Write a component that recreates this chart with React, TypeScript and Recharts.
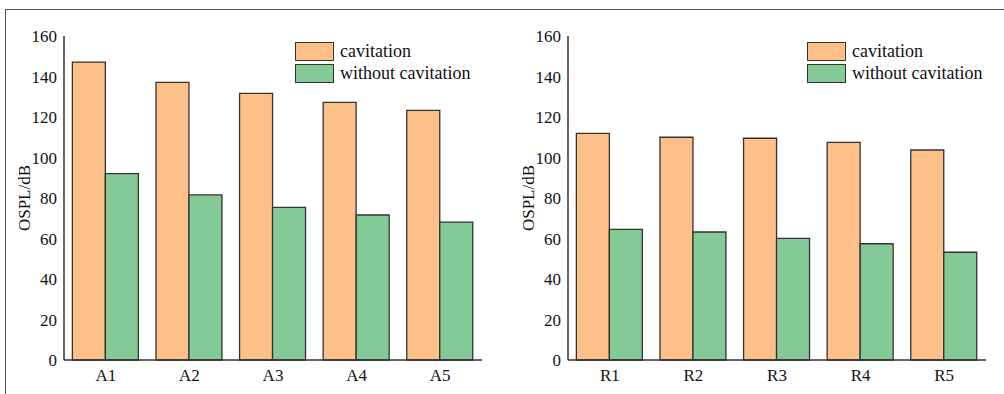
import React from "react";
import {
  Bar,
  BarChart,
  Legend,
  XAxis,
  YAxis,
} from "recharts";

// OSPL for the A-series and R-series cases, with and without cavitation
const aCases = ["A1", "A2", "A3", "A4", "A5"];
const aCavitation = [147.1, 137.1, 131.7, 127.2, 123.3];
const aWithout = [92.0, 81.5, 75.4, 71.6, 68.1];

const rCases = ["R1", "R2", "R3", "R4", "R5"];
const rCavitation = [111.9, 110.0, 109.5, 107.5, 103.7];
const rWithout = [64.5, 63.2, 60.1, 57.4, 53.2];

const majorTicks = [0, 20, 40, 60, 80, 100, 120, 140, 160];
const minorTicks = [10, 30, 50, 70, 90, 110, 130, 150];

const FONT = '"Liberation Serif", "Times New Roman", serif';
const ORANGE = "#FDC088";
const GREEN = "#84CA96";
const EDGE = "#333333";

type Row = { name: string; cavitation: number; without: number };

const toRows = (names: string[], cav: number[], wo: number[]): Row[] =>
  names.map((name, i) => ({ name, cavitation: cav[i], without: wo[i] }));

const renderLegend = (props: any) => {
  const items = props.payload || [];
  return (
    <div style={{ fontFamily: FONT, fontSize: 18, color: "#111" }}>
      {items.map((it: any) => (
        <div
          key={it.value}
          style={{ display: "flex", alignItems: "center", height: 21.6 }}
        >
          <div
            style={{
              width: 37,
              height: 17,
              background: it.color,
              border: `1.5px solid ${EDGE}`,
              marginRight: 6,
            }}
          />
          <span style={{ lineHeight: "19px" }}>{it.value}</span>
        </div>
      ))}
    </div>
  );
};

const yLabel = (props: any) => {
  const vb = props.viewBox;
  const cx = vb.x + 10;
  const cy = vb.y + vb.height / 2;
  return (
    <text
      x={cx}
      y={cy}
      transform={`rotate(-90, ${cx}, ${cy})`}
      textAnchor="middle"
      dominantBaseline="central"
      fontFamily={FONT}
      fontSize={17}
      fill="#111"
    >
      OSPL/dB
    </text>
  );
};

const Panel = ({
  rows,
  left,
  legendLeft,
}: {
  rows: Row[];
  left: number;
  legendLeft: number;
}) => (
  <div style={{ position: "absolute", left, top: 0 }}>
    <BarChart
      width={500}
      height={394}
      data={rows}
      margin={{ top: 36, right: 18, bottom: 4, left: 14 }}
      barCategoryGap="10%"
      barGap={0}
    >
      <XAxis
        dataKey="name"
        height={30}
        tickLine={false}
        tickSize={0}
        tickMargin={9}
        axisLine={{ stroke: EDGE, strokeWidth: 1.5 }}
        tick={{ fontFamily: FONT, fontSize: 17, fill: "#111" }}
      />
      {/* small inward ticks on the boundaries between groups */}
      <XAxis
        xAxisId="bounds"
        type="number"
        domain={[0, rows.length]}
        allowDataOverflow
        ticks={rows.slice(1).map((_, i) => i + 1)}
        mirror
        height={0}
        tick={false}
        tickSize={4}
        tickLine={{ stroke: EDGE, strokeWidth: 1.2 }}
        axisLine={false}
      />
      <XAxis
        xAxisId="top"
        orientation="top"
        dataKey="name"
        mirror
        height={0}
        tick={false}
        tickLine={false}
        axisLine={{ stroke: EDGE, strokeWidth: 1.5 }}
      />
      <YAxis
        width={50}
        domain={[0, 160]}
        ticks={majorTicks}
        tickLine={false}
        tickSize={0}
        tickMargin={7}
        axisLine={{ stroke: EDGE, strokeWidth: 1.5 }}
        tick={{ fontFamily: FONT, fontSize: 17, fill: "#111" }}
        label={yLabel}
      />
      <YAxis
        yAxisId="major"
        mirror
        width={0}
        domain={[0, 160]}
        ticks={majorTicks}
        tick={false}
        tickSize={5}
        tickLine={{ stroke: EDGE, strokeWidth: 1.2 }}
        axisLine={false}
      />
      <YAxis
        yAxisId="minor"
        mirror
        width={0}
        domain={[0, 160]}
        ticks={minorTicks}
        tick={false}
        tickSize={3}
        tickLine={{ stroke: EDGE, strokeWidth: 1.2 }}
        axisLine={false}
      />
      <YAxis
        yAxisId="right"
        orientation="right"
        mirror
        width={0}
        domain={[0, 160]}
        tick={false}
        tickLine={false}
        axisLine={{ stroke: EDGE, strokeWidth: 1.5 }}
      />
      <Legend
        layout="vertical"
        align="center"
        verticalAlign="middle"
        content={renderLegend}
        wrapperStyle={{ left: legendLeft, top: 41, width: "auto" }}
      />
      <Bar
        dataKey="cavitation"
        name="cavitation"
        fill={ORANGE}
        stroke={EDGE}
        strokeWidth={1.3}
        isAnimationActive={false}
      />
      <Bar
        dataKey="without"
        name="without cavitation"
        fill={GREEN}
        stroke={EDGE}
        strokeWidth={1.3}
        isAnimationActive={false}
      />
    </BarChart>
  </div>
);

export default function App() {
  return (
    <div
      style={{
        position: "absolute",
        left: 0,
        top: 0,
        width: 1004,
        height: 394,
        background: "#fff",
        overflow: "hidden",
      }}
    >
      <div
        style={{
          position: "absolute",
          left: 5,
          top: 9,
          width: 1020,
          height: 400,
          borderLeft: "1px solid #555",
          borderTop: "1px solid #555",
        }}
      />
      <Panel rows={toRows(aCases, aCavitation, aWithout)} left={0} legendLeft={295} />
      <Panel rows={toRows(rCases, rCavitation, rWithout)} left={504} legendLeft={303} />
    </div>
  );
}
